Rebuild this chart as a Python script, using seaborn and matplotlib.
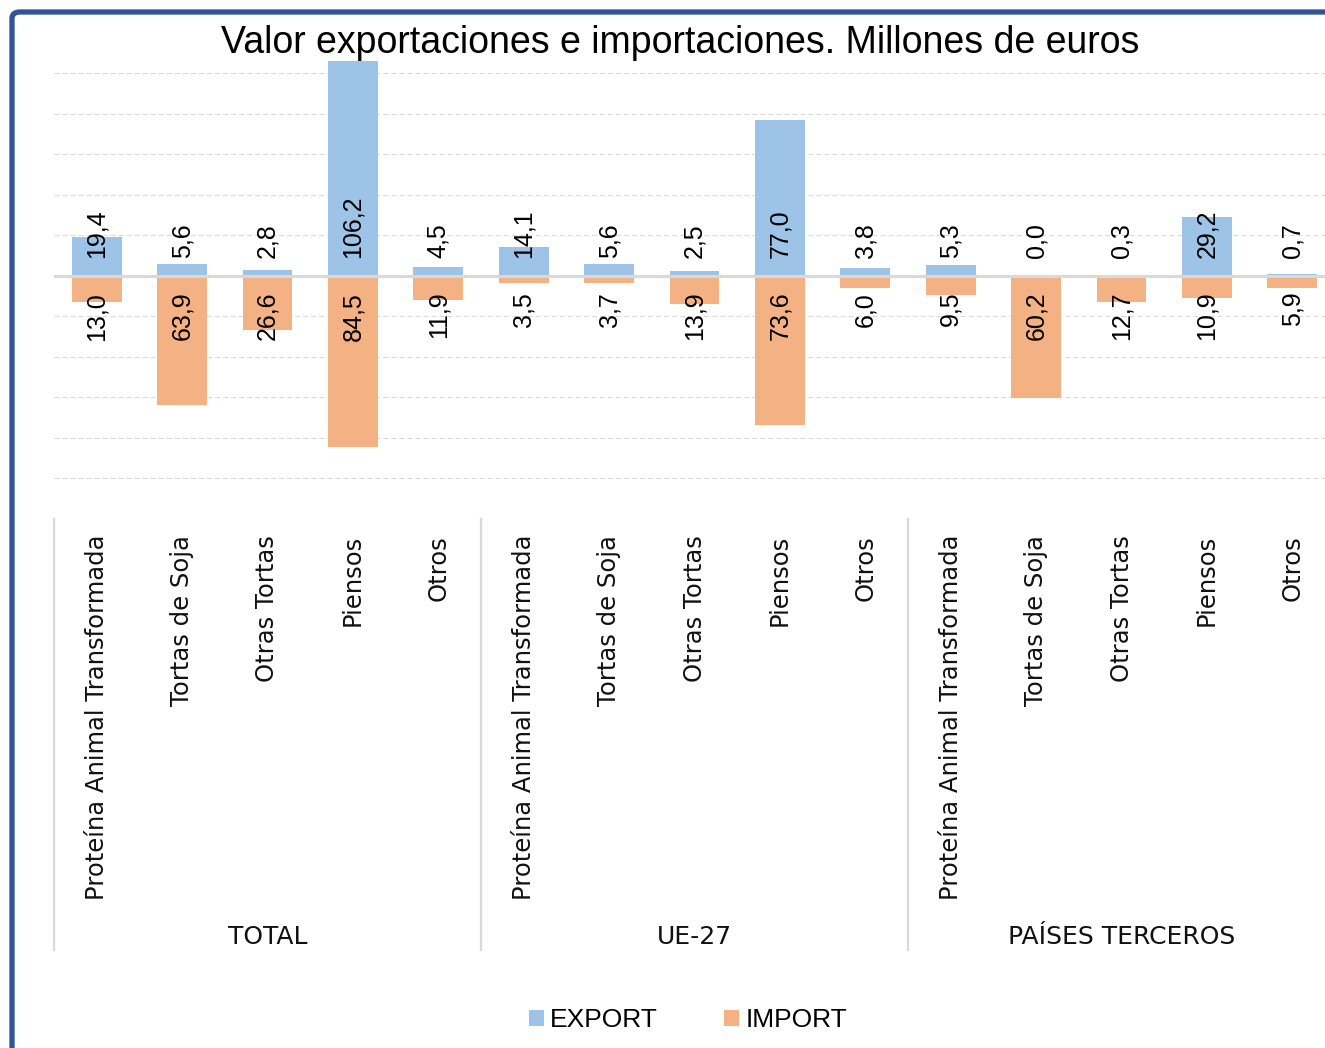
import matplotlib
matplotlib.use("Agg")
import matplotlib.pyplot as plt
from matplotlib.patches import FancyBboxPatch, Patch
from matplotlib.transforms import blended_transform_factory
import seaborn as sns
import pandas as pd

# --- data (millones de euros) ---
groups = ["TOTAL", "UE-27", "PAÍSES TERCEROS"]
products = ["Proteína Animal Transformada", "Tortas de Soja", "Otras Tortas", "Piensos", "Otros"]
export_total = [19.4, 5.6, 2.8, 106.2, 4.5]
import_total = [13.0, 63.9, 26.6, 84.5, 11.9]
export_ue = [14.1, 5.6, 2.5, 77.0, 3.8]
import_ue = [3.5, 3.7, 13.9, 73.6, 6.0]
export_terceros = [5.3, 0.0, 0.3, 29.2, 0.7]
import_terceros = [9.5, 60.2, 12.7, 10.9, 5.9]
series_names = ["EXPORT", "IMPORT"]

exports = [export_total, export_ue, export_terceros]
imports = [import_total, import_ue, import_terceros]

BLUE = "#9DC3E6"
ORANGE = "#F4B183"
GRID = "#D9D9D9"

plt.rcParams["font.family"] = ["Liberation Sans", "DejaVu Sans"]

rows = []
keys = []
for g, exp_vals, imp_vals in zip(groups, exports, imports):
    for p, e, i in zip(products, exp_vals, imp_vals):
        key = f"{g}|{p}"
        keys.append(key)
        rows.append({"key": key, "flow": series_names[0], "value": e})
        rows.append({"key": key, "flow": series_names[1], "value": -i})
df = pd.DataFrame(rows)

W, H = 1325, 1048
fig = plt.figure(figsize=(W / 100, H / 100), dpi=100)

# frame of the chart area
frame = FancyBboxPatch((12 / W, -0.2), 1.3, 1.2 - 12 / H,
                       boxstyle="round,pad=0,rounding_size=0.006",
                       transform=fig.transFigure, facecolor="none",
                       edgecolor="#2F5597", linewidth=3.8, zorder=10)
fig.patches.append(frame)

ymin, ymax = -120, 107
ax_left, ax_right = 54 / W, 1335 / W
ax_bottom = 1 - 519 / H
ax_top = 1 - 59 / H
ax = fig.add_axes([ax_left, ax_bottom, ax_right - ax_left, ax_top - ax_bottom])

# dashed gridlines and solid zero line
for y in range(-120, 101, 20):
    if y == 0:
        continue
    ax.axhline(y, color=GRID, lw=0.75, ls=(0, (4.8, 2.9)), zorder=0)

sns.barplot(data=df, x="key", y="value", hue="flow", order=keys,
            hue_order=series_names, palette=[BLUE, ORANGE], dodge=False,
            width=0.585, errorbar=None, saturation=1, legend=False,
            linewidth=0, ax=ax, zorder=2)

ax.axhline(0, color=GRID, lw=2.2, zorder=3)

ax.set_xlim(-0.5, len(keys) - 0.5)
ax.set_ylim(ymin, ymax)
for s in ax.spines.values():
    s.set_visible(False)
ax.set_yticks([])
ax.set_ylabel("")
ax.set_xlabel("")
ax.set_xticks(range(len(keys)))
ax.set_xticklabels(products * len(groups), rotation=90, fontsize=17.5,
                   family="DejaVu Sans", color="#111111")
ax.tick_params(axis="x", length=0, pad=11.5)


def fmt(v):
    return f"{v:.1f}".replace(".", ",")


# data labels
idx = 0
for exp_vals, imp_vals in zip(exports, imports):
    for e, i in zip(exp_vals, imp_vals):
        ax.annotate(fmt(e), xy=(idx, 0), xytext=(0, 12.5), textcoords="offset points",
                    rotation=90, ha="center", va="bottom", fontsize=18, color="black",
                    zorder=5)
        ax.annotate(fmt(i), xy=(idx, 0), xytext=(0, -11.5), textcoords="offset points",
                    rotation=90, ha="center", va="top", fontsize=18, color="black",
                    zorder=5)
        idx += 1

# group separators and group names below the category labels
trans = blended_transform_factory(ax.transData, fig.transFigure)
n = len(products)
for k in range(len(groups) + 1):
    xs = k * n - 0.5
    ax.plot([xs, xs], [1 - 519 / H, 1 - 950 / H], color=GRID, lw=1.6,
            transform=trans, clip_on=False, zorder=1)
for k, g in enumerate(groups):
    ax.text(k * n + (n - 1) / 2, 1 - 937 / H, g, transform=trans, ha="center",
            va="center", fontsize=18, family="DejaVu Sans", color="#111111")

fig.text(680 / W, 1 - 43 / H, "Valor exportaciones e importaciones. Millones de euros",
         ha="center", va="center", fontsize=27, color="black", zorder=6)

handles = [Patch(facecolor=BLUE, edgecolor="none", label=series_names[0]),
           Patch(facecolor=ORANGE, edgecolor="none", label=series_names[1])]
fig.legend(handles=handles, loc="center", bbox_to_anchor=(688 / W, 1 - 1020 / H),
           ncol=2, frameon=False, fontsize=19, handlelength=0.55, handleheight=0.55,
           handletextpad=0.25, columnspacing=2.5)

fig.savefig("out.png", dpi=100, facecolor="white")
